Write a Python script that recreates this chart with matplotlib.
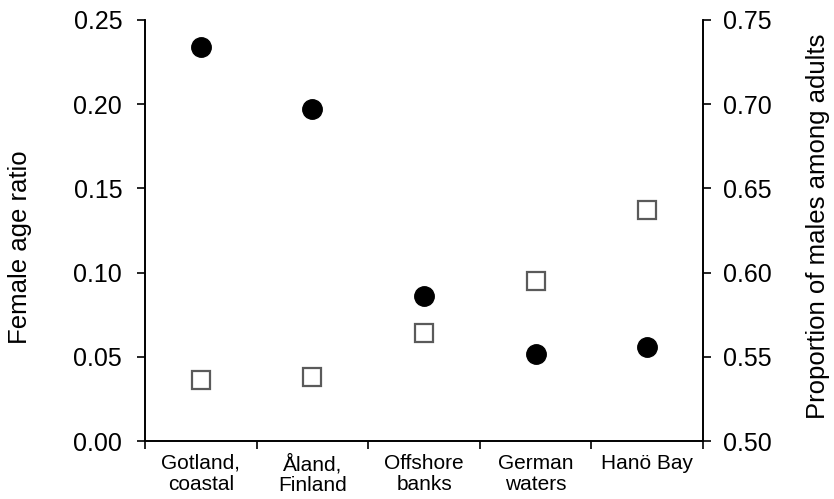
import matplotlib

matplotlib.use("Agg")

import matplotlib.pyplot as plt

plt.rcParams["font.family"] = ["Liberation Sans", "DejaVu Sans"]

categories = ["Gotland,\ncoastal", "Åland,\nFinland", "Offshore\nbanks", "German\nwaters", "Hanö Bay"]
female_age_ratio = [0.234, 0.197, 0.086, 0.052, 0.056]
male_proportion = [0.536, 0.538, 0.564, 0.595, 0.637]
left_ticks = [0.00, 0.05, 0.10, 0.15, 0.20, 0.25]
right_ticks = [0.50, 0.55, 0.60, 0.65, 0.70, 0.75]

fig = plt.figure(figsize=(8.34, 4.99), dpi=100)
ax = fig.add_axes([0.174, 0.116, 0.669, 0.844])
ax2 = ax.twinx()

x = list(range(len(categories)))
ax.plot(x, female_age_ratio, linestyle="none", marker="o", markersize=14,
        color="black", zorder=3)
ax2.plot(x, male_proportion, linestyle="none", marker="s", markersize=13,
         markerfacecolor="white", markeredgecolor="#5a5a5a", markeredgewidth=1.6)

ax.set_xlim(-0.5, len(categories) - 0.5)
ax.set_ylim(0.0, 0.25)
ax2.set_ylim(0.5, 0.75)
ax.set_yticks(left_ticks)
ax.set_yticklabels([f"{t:.2f}" for t in left_ticks])
ax2.set_yticks(right_ticks)
ax2.set_yticklabels([f"{t:.2f}" for t in right_ticks])

# category names sit between the boundary ticks
ax.set_xticks([i - 0.5 for i in range(len(categories) + 1)])
ax.set_xticklabels([])
ax.set_xticks(x, minor=True)
ax.set_xticklabels(categories, minor=True, fontsize=15, linespacing=1.15)
ax.tick_params(axis="x", which="minor", length=0, pad=9)
ax.tick_params(axis="x", which="major", length=5.5, width=1.2, direction="out")

for a in (ax, ax2):
    a.spines["top"].set_visible(False)
    for side in ("left", "right", "bottom"):
        a.spines[side].set_linewidth(1.2)
    a.tick_params(axis="y", labelsize=18, length=5.5, width=1.2, direction="out")
ax.tick_params(axis="y", pad=11)
ax2.tick_params(axis="y", pad=9)

ax.set_ylabel("Female age ratio", fontsize=18.5)
ax2.set_ylabel("Proportion of males among adults", fontsize=18.5)
ax.yaxis.set_label_coords(-0.2025, 0.46)
ax2.yaxis.set_label_coords(1.184, 0.51)

fig.savefig("out.png", dpi=100)
